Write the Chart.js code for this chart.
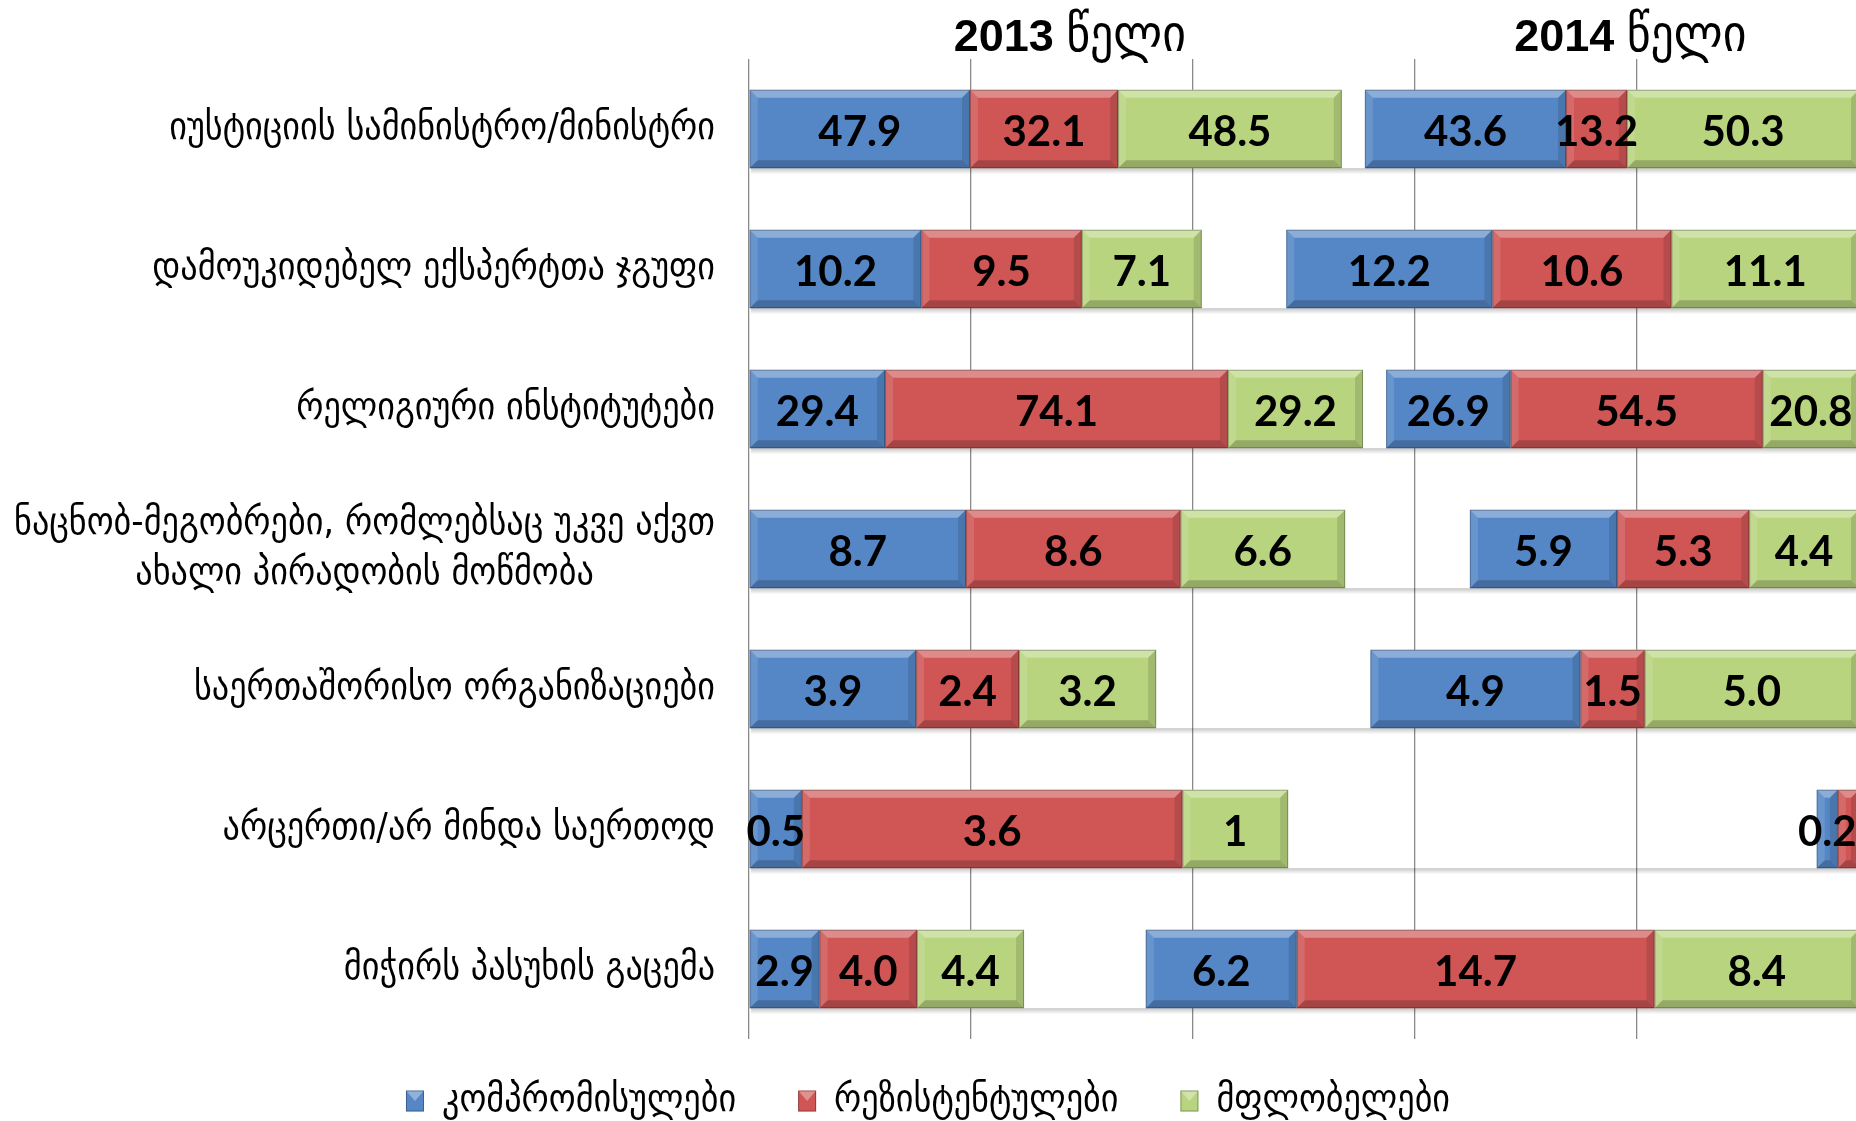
<!DOCTYPE html>
<html lang="ka">
<head>
<meta charset="UTF-8">
<title>Chart</title>
<script src="https://cdn.jsdelivr.net/npm/chart.js@4.4.0/dist/chart.umd.min.js"></script>
<style>
  html, body { margin: 0; padding: 0; background: #fff; overflow: hidden; }
</style>
</head>
<body>
<canvas id="myChart" width="1860" height="1121"></canvas>
<script>
// categories (y axis)
var categories = [
  'იუსტიციის სამინისტრო/მინისტრი',
  'დამოუკიდებელ ექსპერტთა ჯგუფი',
  'რელიგიური ინსტიტუტები',
  ['ნაცნობ-მეგობრები, რომლებსაც უკვე აქვთ', 'ახალი პირადობის მოწმობა'],
  'საერთაშორისო ორგანიზაციები',
  'არცერთი/არ მინდა საერთოდ',
  'მიჭირს პასუხის გაცემა'
];
var seriesNames = ['კომპრომისულები', 'რეზისტენტულები', 'მფლობელები'];
var yearTitles = ['2013', '2014'];

// values as printed on the bars
var blue2013  = ['47.9', '10.2', '29.4', '8.7', '3.9', '0.5', '2.9'];
var red2013   = ['32.1', '9.5', '74.1', '8.6', '2.4', '3.6', '4.0'];
var green2013 = ['48.5', '7.1', '29.2', '6.6', '3.2', '1', '4.4'];
var spacer    = [5, 5, 5, 5, 5, 5, 5];   // empty series between the two years
var blue2014  = ['43.6', '12.2', '26.9', '5.9', '4.9', '0.2', '6.2'];
var red2014   = ['13.2', '10.6', '54.5', '5.3', '1.5', '0.2', '14.7'];
var green2014 = ['50.3', '11.1', '20.8', '4.4', '5.0', '0', '8.4'];

var colors = ['#5587c6', '#cf5655', '#b8d47f'];
var geoFont = '"DejaVu Sans Condensed", "DejaVu Sans", sans-serif';

// 100% stacked: each row is scaled to its own total
var rowTotal = categories.map(function (c, i) {
  return [blue2013, red2013, green2013, blue2014, red2014, green2014]
    .reduce(function (s, arr) { return s + Number(arr[i]); }, 0) + spacer[i];
});
function share(arr) {
  return arr.map(function (v, i) { return Number(v) / rowTotal[i] * 100; });
}

function series(arr, colorIdx, label) {
  return {
    label: label,
    data: share(arr),
    shown: arr,
    backgroundColor: colorIdx === null ? 'rgba(0,0,0,0)' : colors[colorIdx],
    spacer: colorIdx === null,
    stack: 's'
  };
}

var datasets = [
  series(blue2013, 0, seriesNames[0]),
  series(red2013, 1, seriesNames[1]),
  series(green2013, 2, seriesNames[2]),
  series(spacer, null, ''),
  series(blue2014, 0, seriesNames[0]),
  series(red2014, 1, seriesNames[1]),
  series(green2014, 2, seriesNames[2])
];

function poly(ctx, pts, fill) {
  ctx.beginPath();
  ctx.moveTo(pts[0][0], pts[0][1]);
  for (var k = 1; k < pts.length; k++) ctx.lineTo(pts[k][0], pts[k][1]);
  ctx.closePath();
  ctx.fillStyle = fill;
  ctx.fill();
}

var decorPlugin = {
  id: 'decor',
  beforeDatasetsDraw: function (chart) {
    // soft shadow under each whole row (spacer included, like the original)
    var ctx = chart.ctx, xs = chart.scales.x;
    var meta = chart.getDatasetMeta(0);
    meta.data.forEach(function (bar) {
      var p = bar.getProps(['y', 'height'], true);
      var yb = p.y + p.height / 2;
      var g = ctx.createLinearGradient(0, yb, 0, yb + 6);
      g.addColorStop(0, 'rgba(0,0,0,0.22)');
      g.addColorStop(1, 'rgba(0,0,0,0)');
      ctx.fillStyle = g;
      ctx.fillRect(xs.getPixelForValue(0) + 2, yb, xs.getPixelForValue(100) - xs.getPixelForValue(0), 6);
    });
  },
  afterDatasetsDraw: function (chart) {
    var ctx = chart.ctx;
    ctx.save();
    // bevel on every segment
    chart.data.datasets.forEach(function (ds, di) {
      if (ds.spacer) return;
      chart.getDatasetMeta(di).data.forEach(function (bar) {
        var p = bar.getProps(['x', 'y', 'base', 'height'], true);
        var x0 = Math.min(p.x, p.base), x1 = Math.max(p.x, p.base);
        var y0 = p.y - p.height / 2, y1 = p.y + p.height / 2;
        var w = x1 - x0, h = y1 - y0;
        if (w <= 0.5) return;
        var b = Math.min(8, w / 2, h / 2);
        poly(ctx, [[x0, y0], [x1, y0], [x1 - b, y0 + b], [x0 + b, y0 + b]], 'rgba(255,255,255,0.32)');
        poly(ctx, [[x0, y0], [x0 + b, y0 + b], [x0 + b, y1 - b], [x0, y1]], 'rgba(255,255,255,0.12)');
        poly(ctx, [[x1, y0], [x1, y1], [x1 - b, y1 - b], [x1 - b, y0 + b]], 'rgba(0,0,0,0.12)');
        poly(ctx, [[x0, y1], [x0 + b, y1 - b], [x1 - b, y1 - b], [x1, y1]], 'rgba(0,0,0,0.2)');
        ctx.strokeStyle = 'rgba(0,0,0,0.25)';
        ctx.lineWidth = 1;
        ctx.strokeRect(x0 + 0.5, y0 + 0.5, w - 1, h - 1);
      });
    });
    // value labels
    ctx.font = 'bold 42px Lato, "Open Sans", sans-serif';
    ctx.fillStyle = '#000';
    ctx.textAlign = 'center';
    ctx.textBaseline = 'middle';
    chart.data.datasets.forEach(function (ds, di) {
      if (ds.spacer) return;
      chart.getDatasetMeta(di).data.forEach(function (bar, i) {
        var txt = ds.shown[i];
        if (Number(txt) === 0) return;
        var p = bar.getProps(['x', 'y', 'base'], true);
        var cx = (p.x + p.base) / 2;
        var tw = ctx.measureText(txt).width;
        if (cx + tw / 2 > chart.width - 2) return;  // falls outside the picture
        ctx.fillText(txt, cx, p.y + 3);
      });
    });
    ctx.restore();
  },
  afterDraw: function (chart) {
    var ctx = chart.ctx, ys = chart.scales.y, xs = chart.scales.x;
    ctx.save();
    ctx.fillStyle = '#000';
    ctx.textBaseline = 'middle';
    ctx.font = '38px ' + geoFont;
    // category labels, right aligned next to the plot
    var right = 715;
    categories.forEach(function (lab, i) {
      var y = ys.getPixelForValue(i);
      if (Array.isArray(lab)) {
        var maxW = Math.max.apply(null, lab.map(function (l) { return ctx.measureText(l).width; }));
        ctx.textAlign = 'center';
        lab.forEach(function (l, k) {
          ctx.fillText(l, right - maxW / 2, y + (k - (lab.length - 1) / 2) * 50);
        });
      } else {
        ctx.textAlign = 'right';
        ctx.fillText(lab, right, y);
      }
    });
    // year titles
    var titleAt = [28.9, 79.4];
    yearTitles.forEach(function (yr, k) {
      var a = yr + ' ', bTxt = 'წელი';
      ctx.font = 'bold 45px "Liberation Sans", Arial, sans-serif';
      var wa = ctx.measureText(a).width;
      ctx.font = '51px ' + geoFont;
      var wb = ctx.measureText(bTxt).width;
      var x = xs.getPixelForValue(titleAt[k]) - (wa + wb) / 2;
      ctx.textAlign = 'left';
      ctx.textBaseline = 'alphabetic';
      ctx.font = 'bold 45px "Liberation Sans", Arial, sans-serif';
      ctx.fillText(a, x, 51);
      ctx.font = '51px ' + geoFont;
      ctx.fillText(bTxt, x + wa, 51);
    });
    // legend
    ctx.font = '38px ' + geoFont;
    ctx.textBaseline = 'middle';
    var boxW = 18, boxH = 21, boxGap = 18, itemGap = 62, ly = 1101;
    var widths = seriesNames.map(function (n) { return ctx.measureText(n).width; });
    var total = widths.reduce(function (s, w) { return s + boxW + boxGap + w; }, 0) + itemGap * (seriesNames.length - 1);
    var lx = 928 - total / 2;
    seriesNames.forEach(function (n, k) {
      ctx.fillStyle = colors[k];
      ctx.fillRect(lx, ly - boxH / 2, boxW, boxH);
      poly(ctx, [[lx, ly - boxH / 2], [lx + boxW, ly - boxH / 2], [lx + boxW / 2, ly]], 'rgba(255,255,255,0.35)');
      ctx.strokeStyle = 'rgba(0,0,0,0.3)';
      ctx.lineWidth = 1;
      ctx.strokeRect(lx + 0.5, ly - boxH / 2 + 0.5, boxW - 1, boxH - 1);
      ctx.fillStyle = '#000';
      ctx.textAlign = 'left';
      ctx.fillText(n, lx + boxW + boxGap, ly);
      lx += boxW + boxGap + widths[k] + itemGap;
    });
    ctx.restore();
  }
};

var ctx = document.getElementById('myChart').getContext('2d');
var myChart = new Chart(ctx, {
  type: 'bar',
  data: { labels: categories, datasets: datasets },
  options: {
    indexAxis: 'y',
    responsive: false,
    animation: false,
    barPercentage: 0.56,
    categoryPercentage: 1,
    layout: { padding: { left: 749, top: 59, right: 1, bottom: 82 } },
    plugins: {
      legend: { display: false },
      tooltip: { enabled: false }
    },
    scales: {
      x: {
        stacked: true,
        min: 0,
        max: 100,
        ticks: { display: false, stepSize: 20 },
        grid: { color: '#8a8a8a', lineWidth: 1.3, drawTicks: false },
        border: { display: false }
      },
      y: {
        stacked: true,
        display: false
      }
    }
  },
  plugins: [decorPlugin]
});
</script>
</body>
</html>
